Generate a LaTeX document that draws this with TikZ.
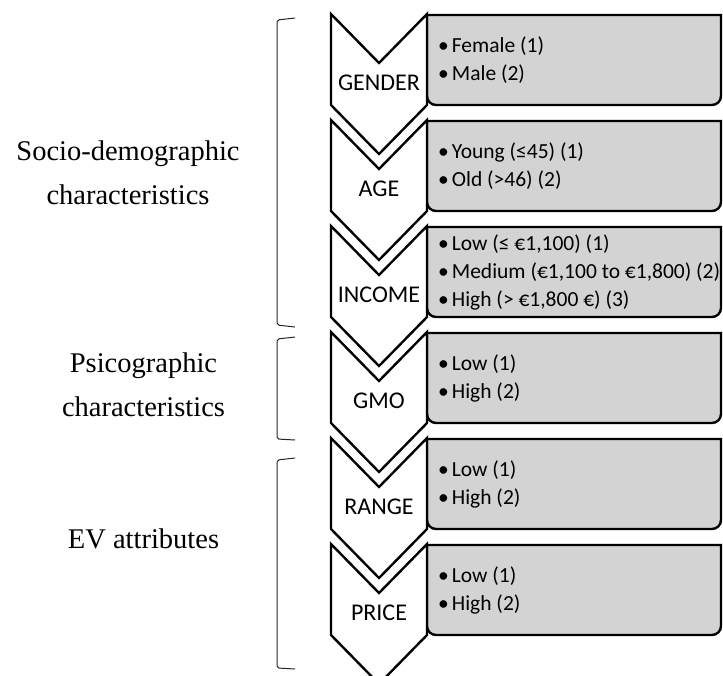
\documentclass[tikz,border=0pt]{standalone}
\usepackage{fontspec}
\setmainfont{Carlito}
\newfontfamily\sidefont{Liberation Serif}
\definecolor{boxgray}{RGB}{211,211,211}

\begin{document}
\begin{tikzpicture}[x=1pt, y=-1pt, % one unit is one pixel of the reference, y runs down
                    chevron/.style = {draw=black, line width=2.4pt, fill=white},
                    attrbox/.style = {draw=black, line width=2.4pt, fill=boxgray},
                    bracket/.style = {draw=black!85, line width=1pt, rounded corners=2pt},
                    chevlabel/.style = {inner sep=0pt, font=\fontsize{24}{28}\selectfont},
                    itemlist/.style = {anchor=west, align=left, inner sep=0pt,
                                       font=\fontsize{21.5}{28}\selectfont},
                    sidelabel/.style = {align=center, inner sep=0pt,
                                        font=\sidefont\fontsize{28.5}{44}\selectfont}
                   ]
  \useasboundingbox (0,0) rectangle (723,675);
  \clip (0,0) rectangle (723,675);

  % chevrons with their gray boxes
  \foreach \t in {14,120,226,332,438,544} {
    \draw[attrbox] (427,\t+1) -- (721,\t+1) [rounded corners=9pt] -- (721,\t+91)
                   -- (427,\t+91) [sharp corners] -- cycle;
    \draw[chevron] (331,\t) -- (379,\t+49) -- (427,\t) -- (427,\t+91)
                   -- (379,\t+140) -- (331,\t+91) -- cycle;
  }

  % chevron names
  \node[chevlabel] (gender) at (379,83)  {GENDER};
  \node[chevlabel] (age)    at (379,189) {AGE};
  \node[chevlabel] (income) at (379,295) {INCOME};
  \node[chevlabel] (gmo)    at (379,401) {GMO};
  \node[chevlabel] (range)  at (379,507) {RANGE};
  \node[chevlabel] (price)  at (379,613) {PRICE};

  % levels in the boxes
  \node[itemlist] (genderlist) at (438,60)  {•\hspace{3pt}Female (1)\\•\hspace{3pt}Male (2)};
  \node[itemlist] (agelist)    at (438,166) {•\hspace{3pt}Young (≤45) (1)\\•\hspace{3pt}Old (>46) (2)};
  \node[itemlist] (incomelist) at (438,272) {•\hspace{3pt}Low (≤ €1,100) (1)\\
                                             •\hspace{3pt}Medium (€1,100 to €1,800) (2)\\
                                             •\hspace{3pt}High (> €1,800 €) (3)};
  \node[itemlist] (gmolist)    at (438,378) {•\hspace{3pt}Low (1)\\•\hspace{3pt}High (2)};
  \node[itemlist] (rangelist)  at (438,484) {•\hspace{3pt}Low (1)\\•\hspace{3pt}High (2)};
  \node[itemlist] (pricelist)  at (438,590) {•\hspace{3pt}Low (1)\\•\hspace{3pt}High (2)};

  % brackets and group names
  \draw[bracket] (295,18) -- (277,20) -- (277,325) -- (295,327);
  \draw[bracket] (295,337) -- (277,339) -- (277,439) -- (295,440);
  \draw[bracket] (295,458) -- (277,460) -- (277,668) -- (295,669);

  \node[sidelabel, anchor=south] (socio) at (128,205) {Socio-demographic\\characteristics};
  \node[sidelabel, anchor=south] (psico) at (143.5,417) {Psicographic\\characteristics};
  \node[sidelabel, anchor=base]  (ev)    at (143.5,548) {EV attributes};
\end{tikzpicture}
\end{document}
